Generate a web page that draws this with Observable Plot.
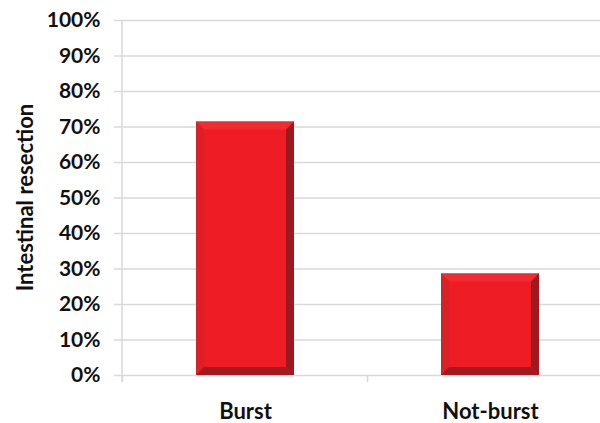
<!DOCTYPE html>
<html>
<head>
<meta charset="utf-8">
<script src="https://cdn.jsdelivr.net/npm/d3@7"></script>
<script src="https://cdn.jsdelivr.net/npm/@observablehq/plot@0.6"></script>
<style>
  html, body { margin: 0; padding: 0; background: #fff; }
  #chart { width: 600px; height: 423px; }
</style>
</head>
<body>
<div id="chart"></div>
<script>
const categories = ["Burst", "Not-burst"];
const values = [71.4, 28.6];
const yTicks = [0, 10, 20, 30, 40, 50, 60, 70, 80, 90, 100];
const yLabel = "Intestinal resection";

const data = categories.map((c, i) => ({category: c, value: values[i]}));

const FACE = "#ee1d25", TOP = "#f12b31", LEFT = "#de1f26", RIGHT = "#9b1a1f", BOTTOM = "#a01b20";
const GRID = "#d9d9d9";
const B = 8;

function bevels(index, scales, values_, dimensions) {
  const {x, y} = scales;
  const bw = typeof x.bandwidth === "function" ? x.bandwidth() : x.bandwidth;
  const g = d3.create("svg:g");
  const {marginLeft} = dimensions;
  const y0 = y(0);
  // axis line
  g.append("line").attr("x1", marginLeft).attr("x2", marginLeft)
    .attr("y1", y(100)).attr("y2", y0 + 7).attr("stroke", GRID).attr("stroke-width", 1.5);
  // category boundary ticks
  const centers = categories.map(c => x(c) + bw / 2);
  const step = centers[1] - centers[0];
  const bounds = [centers[0] - step / 2, ...centers.map(c => c + step / 2)];
  for (const bx of bounds) {
    g.append("line").attr("x1", bx).attr("x2", bx).attr("y1", y0).attr("y2", y0 + 7)
      .attr("stroke", GRID).attr("stroke-width", 1.5);
  }
  // bevels
  for (const d of data) {
    const xl = x(d.category), xr = xl + bw, yt = y(d.value), yb = y0;
    const poly = (pts, fill) => g.append("polygon")
      .attr("points", pts.map(p => p.join(",")).join(" ")).attr("fill", fill);
    poly([[xl, yt], [xr, yt], [xr - B, yt + B], [xl + B, yt + B]], TOP);
    poly([[xl, yt], [xl + B, yt + B], [xl + B, yb - B], [xl, yb]], LEFT);
    poly([[xr, yt], [xr, yb], [xr - B, yb - B], [xr - B, yt + B]], RIGHT);
    poly([[xl, yb], [xr, yb], [xr - B, yb - B], [xl + B, yb - B]], BOTTOM);
  }
  // y label
  const cy = (y(0) + y(100)) / 2;
  g.append("text").attr("transform", `translate(25,${cy}) rotate(-90)`)
    .attr("text-anchor", "middle").attr("dy", "0.35em")
    .attr("font-size", 22).attr("font-weight", "bold").attr("fill", "#111")
    .text(yLabel);
  return g.node();
}

const chart = Plot.plot({
  width: 600,
  height: 423,
  marginLeft: 122,
  marginRight: 0,
  marginTop: 20,
  marginBottom: 48,
  style: {fontFamily: "Lato, sans-serif", fontWeight: "bold", color: "#111", background: "#fff"},
  x: {type: "band", domain: categories, range: [122, 612], paddingInner: 0.6, paddingOuter: 0.3},
  y: {domain: [0, 100]},
  marks: [
    Plot.ruleY(yTicks, {stroke: GRID, strokeWidth: 1.5}),
    Plot.axisY(yTicks, {tickSize: 8, tickPadding: 14, tickFormat: d => d + "%", stroke: GRID, strokeWidth: 1.5, fontSize: 21, label: null}),
    Plot.axisX({tickSize: 0, tickPadding: 28, fontSize: 22, label: null}),
    Plot.barY(data, {x: "category", y: "value", fill: FACE}),
    bevels
  ]
});
document.getElementById("chart").appendChild(chart);
</script>
</body>
</html>
